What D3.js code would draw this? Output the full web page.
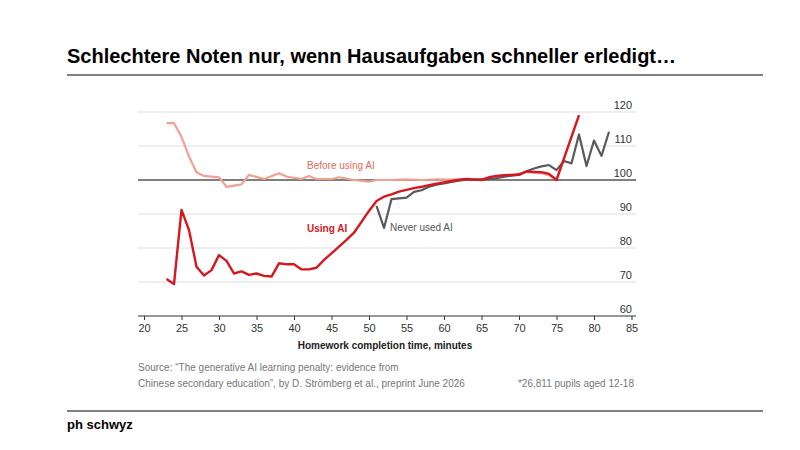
<!DOCTYPE html>
<html><head><meta charset="utf-8">
<script src="https://cdn.jsdelivr.net/npm/d3@7"></script>
<style>body{margin:0;background:#fff;font-family:"Liberation Sans",Arial,sans-serif}</style>
</head><body><svg id="c" width="800" height="450"></svg>
<script>
const xTicks=[20,25,30,35,40,45,50,55,60,65,70,75,80,85];
const yTicks=[60,70,80,90,100,110,120];
const beforeX=[23,24,25,26,27,28,30,31,33,34,36,38,39,41,42,43,45,46,48,50,51,53,55,57,59,61,63,65,67,69,71,72,73,74,74.7];
const beforeY=[116.7,116.7,112.7,106.9,102.3,101.2,100.8,98.0,98.7,101.5,100.3,102.0,101.0,100.3,101.2,100.3,100.3,100.8,100,99.5,100,100,100.2,100,100.2,100.1,100.2,100.3,100.8,101.3,102.4,102.1,102.0,101.4,100.6];
const usingX=[23,24,25,26,27,28,29,30,31,32,33,34,35,36,37,38,39,40,41,42,43,44,45,46,47,48,49,50,51,52,53,54,55,56,57,58,59,60,61,62,63,64,65,66,67,68,69,70,71,72,73,74,75,78];
const usingY=[70.9,69.4,91.2,85.3,74.5,71.9,73.5,77.9,76.2,72.5,73.1,72.1,72.5,71.8,71.6,75.5,75.2,75.2,73.7,73.7,74.2,76.5,78.4,80.4,82.4,84.5,87.7,90.9,93.8,95.1,95.8,96.6,97.1,97.6,98.0,98.5,98.9,99.3,99.7,100.1,100.3,100.1,100,100.8,101.2,101.4,101.5,101.6,102.5,102.4,102.3,101.8,100,119.1];
const neverX=[51,52,53,54,55,56,57,58,59,60,61,62,63,64,65,66,67,68,69,70,71,72,73,74,75,76,77,78,79,80,81,82];
const neverY=[92.4,85.9,94.4,94.6,94.8,96.5,97.0,98.0,98.6,99.0,99.4,99.8,100.1,100.2,100.1,100.3,100.5,101.0,101.3,101.5,102.6,103.4,104.0,104.4,102.9,105.6,104.9,113.4,104.1,111.6,107.1,114.2];

const svg=d3.select("#c");
svg.append("text").attr("x",67).attr("y",63).attr("font-size",20).attr("font-weight","bold").attr("fill","#000")
 .text("Schlechtere Noten nur, wenn Hausaufgaben schneller erledigt…");
svg.append("line").attr("x1",67).attr("x2",763).attr("y1",75).attr("y2",75).attr("stroke","#000");
svg.append("line").attr("x1",67).attr("x2",763).attr("y1",411).attr("y2",411).attr("stroke","#000");
svg.append("text").attr("x",67).attr("y",429).attr("font-size",13).attr("font-weight","bold").text("ph schwyz");

const x=d3.scaleLinear().domain([20,85]).range([144,631.5]);
const y=d3.scaleLinear().domain([60,120]).range([316,112]);
const g=svg.append("g");
yTicks.forEach(t=>{ if(t===60) return;
 g.append("line").attr("x1",138).attr("x2",636).attr("y1",y(t)).attr("y2",y(t))
  .attr("stroke",t===100?"#555":"#ddd").attr("stroke-width",t===100?1.3:1);
});
g.selectAll(".yl").data(yTicks).enter().append("text").attr("x",632).attr("y",d=>y(d)-3)
 .attr("text-anchor","end").attr("font-size",11).attr("fill","#333").text(d=>d);
const ax=g.append("g").attr("transform","translate(0,316)")
 .call(d3.axisBottom(x).tickValues(xTicks).tickSize(4).tickPadding(4));
ax.select(".domain").attr("d","M138,0H636").attr("stroke","#333");
ax.selectAll("line").attr("stroke","#333");
ax.selectAll("text").attr("font-size",11).attr("fill","#333").attr("font-family","Liberation Sans, Arial");
svg.append("text").attr("x",385).attr("y",349).attr("text-anchor","middle").attr("font-size",10).attr("font-weight","bold").attr("fill","#222").text("Homework completion time, minutes");
const line=d3.line().x(d=>x(d[0])).y(d=>y(d[1])).curve(d3.curveLinear);
const draw=(xs,ys,c,w)=>g.append("path").attr("d",line(xs.map((v,i)=>[v,ys[i]]))).attr("fill","none")
 .attr("stroke",c).attr("stroke-width",w).attr("stroke-linejoin","round");
draw(beforeX,beforeY,"#f2a093",2.2);
draw(neverX,neverY,"#5a5a5a",2.2);
draw(usingX,usingY,"#d7171f",2.4);
svg.append("text").attr("x",307).attr("y",169).attr("font-size",10).attr("fill","#e8695b").text("Before using AI");
svg.append("text").attr("x",307).attr("y",232).attr("font-size",10).attr("font-weight","bold").attr("fill","#d7171f").text("Using AI");
svg.append("text").attr("x",390).attr("y",231).attr("font-size",10).attr("fill","#555").text("Never used AI");
const src=svg.append("text").attr("font-size",10).attr("fill","#777");
src.append("tspan").attr("x",138).attr("y",371).text("Source: \u201cThe generative AI learning penalty: evidence from");
src.append("tspan").attr("x",138).attr("y",387).text("Chinese secondary education\u201d, by D. Strömberg et al., preprint June 2026");
svg.append("text").attr("x",634).attr("y",387).attr("text-anchor","end").attr("font-size",10).attr("fill","#777").text("*26,811 pupils aged 12-18");
</script></body></html>
